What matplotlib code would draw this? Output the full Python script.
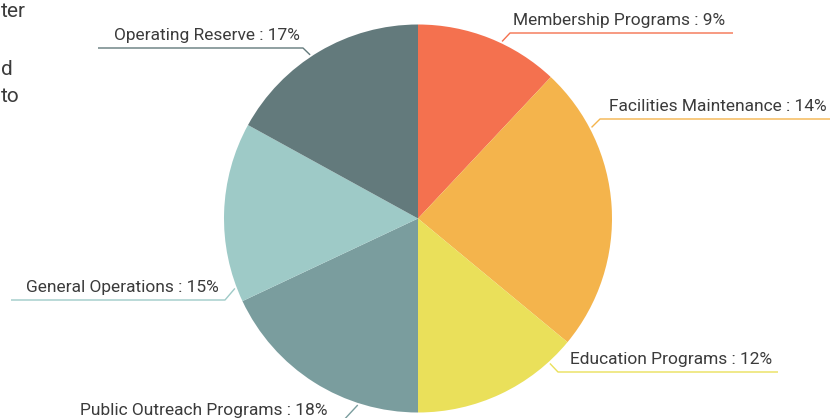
"""Budget allocation pie with leader-line labels."""
import matplotlib

matplotlib.use("Agg")
import matplotlib.pyplot as plt
import numpy as np

# data (slice sizes) and the printed label percentages
categories = [
    "Membership Programs",
    "Facilities Maintenance",
    "Education Programs",
    "Public Outreach Programs",
    "General Operations",
    "Operating Reserve",
]
values = [12, 24, 14, 18, 15, 17]
label_pct = [9, 14, 12, 18, 15, 17]
colors = ["#F4714F", "#F4B44C", "#EAE05A", "#7A9D9E", "#9ECAC7", "#637A7C"]

# label layout (pixel space, y down): anchor angle on rim, elbow point,
# end of the rule, and the text anchor x
anchor_deg = [64.6, 27.7, -47.7, -107.9, -159.1, 123.4]
elbow = [(510, 33), (600, 119), (558, 372), (341, 423), (225, 300), (303, 48)]
rule_end = [733, 830, 778, 60, 11, 98]
text_x = [513, 609, 570, 328, 219, 300]
side = ["left", "left", "left", "right", "right", "right"]

W, H = 840, 418
CX, CY, R = 418, 218.5, 194
TEXT = "#3b3b3b"

plt.rcParams["font.family"] = ["Roboto", "DejaVu Sans"]

fig = plt.figure(figsize=(W / 100, H / 100), dpi=100)
ax = fig.add_axes([0, 0, 1, 1])


def flip(y):
    return H - y


ax.pie(values, colors=colors, startangle=90, counterclock=False,
       center=(CX, flip(CY)), radius=R, frame=True,
       wedgeprops=dict(linewidth=0))
ax.set_xlim(0, W)
ax.set_ylim(0, H)
ax.set_aspect("equal")
ax.axis("off")

for name, pct, color, ang, (ex, ey), xend, tx, ha in zip(
        categories, label_pct, colors, anchor_deg, elbow, rule_end, text_x, side):
    t = np.deg2rad(ang)
    sx = CX + (R + 2) * np.cos(t)
    sy = CY - (R + 2) * np.sin(t)
    ax.plot([sx, ex, xend], [flip(sy), flip(ey), flip(ey)], color=color,
            linewidth=1.0, solid_capstyle="butt")
    ax.text(tx, flip(ey) + 5, f"{name} : {pct}%", ha=ha, va="bottom",
            fontsize=12.5, color=TEXT)

# description text fragments at the left edge
ax.text(1, flip(17), "ter", ha="left", va="baseline", fontsize=15, color=TEXT)
ax.text(1, flip(75), "d", ha="left", va="baseline", fontsize=15, color=TEXT)
ax.text(1, flip(102), "to", ha="left", va="baseline", fontsize=15, color=TEXT)

fig.savefig("out.png", dpi=100)
